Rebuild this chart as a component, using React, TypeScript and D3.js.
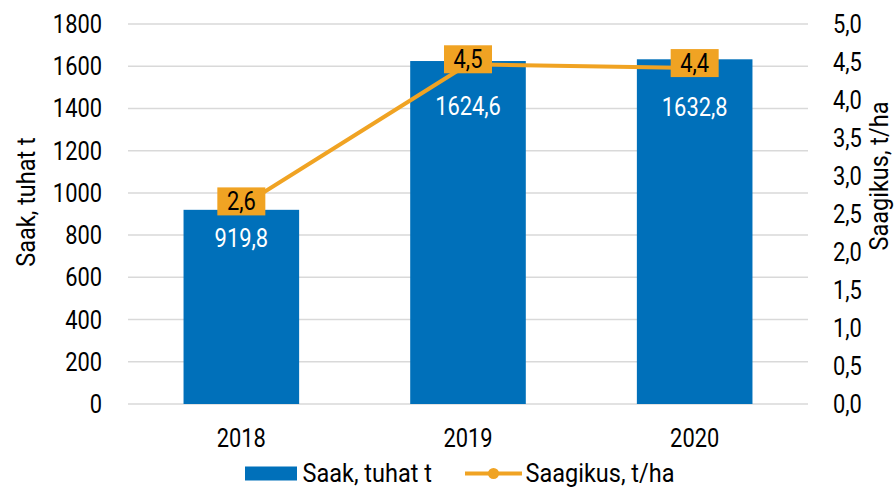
import React from "react";
import * as d3 from "d3";

const categories = ["2018", "2019", "2020"];
const saak = [919.8, 1624.6, 1632.8];
const saagikus = [2.6, 4.47, 4.42];
const leftTicks = [0, 200, 400, 600, 800, 1000, 1200, 1400, 1600, 1800];
const rightTicks = [0, 0.5, 1, 1.5, 2, 2.5, 3, 3.5, 4, 4.5, 5];

const W = 895;
const H = 489;
const BLUE = "#0070BA";
const ORANGE = "#F0A323";
const GRID = "#D9D9D9";
const FONT = "Roboto, 'Noto Sans', sans-serif";
const SX_NUM = 0.875;
const SX_TXT = 0.94;
const FS = 25;

const fmt1 = (v: number) => d3.format(".1f")(v).replace(".", ",");

function T({ x, y, anchor = "start", size = FS, fill = "#000", rotate = 0, sx = SX_NUM, children }: any) {
  return (
    <g transform={`translate(${x},${y}) rotate(${rotate}) scale(${sx},1)`}>
      <text x={0} y={0} textAnchor={anchor} fontFamily={FONT} fontSize={size} fill={fill}>
        {children}
      </text>
    </g>
  );
}

export default function App() {
  const left = 128;
  const right = 808;
  const top = 24;
  const bottom = 404;

  const x = d3.scaleBand().domain(categories).range([left, right]).paddingInner(0.49).paddingOuter(0.245);
  const yL = d3.scaleLinear().domain([0, 1800]).range([bottom, top]);
  const yR = d3.scaleLinear().domain([0, 5]).range([bottom, top]);
  const cx = (c: string) => (x(c) as number) + x.bandwidth() / 2;

  const line = d3
    .line<number>()
    .x((_, i) => cx(categories[i]))
    .y((d) => yR(d));

  const barLabelOffset = [37, 54, 57];
  const boxW = 48;
  const boxH = 28;
  const boxLift = 5;
  const capHalf = 9;

  return (
    <svg width={W} height={H} style={{ position: "absolute", left: 0, top: 0, background: "#fff" }}>
      <rect width={W} height={H} fill="#fff" />
      {leftTicks.map((t) => (
        <line key={t} x1={left} x2={right} y1={yL(t)} y2={yL(t)} stroke={GRID} strokeWidth={1.5} />
      ))}
      {leftTicks.map((t) => (
        <T key={"l" + t} x={102} y={yL(t) + capHalf} anchor="end">
          {String(t)}
        </T>
      ))}
      {rightTicks.map((t) => (
        <T key={"r" + t} x={833} y={yR(t) + capHalf} anchor="start">
          {fmt1(t)}
        </T>
      ))}
      <T x={35} y={202} anchor="middle" rotate={-90} sx={SX_TXT}>
        Saak, tuhat t
      </T>
      <T x={888} y={176} anchor="middle" rotate={-90} sx={SX_TXT}>
        Saagikus, t/ha
      </T>

      {categories.map((c, i) => (
        <rect key={c} x={x(c)} y={yL(saak[i])} width={x.bandwidth()} height={bottom - yL(saak[i])} fill={BLUE} />
      ))}
      {categories.map((c) => (
        <T key={"cat" + c} x={cx(c)} y={446.5} anchor="middle">
          {c}
        </T>
      ))}

      <path d={line(saagikus) as string} fill="none" stroke={ORANGE} strokeWidth={4} strokeLinejoin="round" />

      {categories.map((c, i) => (
        <T key={"bl" + c} x={cx(c)} y={yL(saak[i]) + barLabelOffset[i]} anchor="middle" fill="#fff">
          {fmt1(saak[i])}
        </T>
      ))}

      {categories.map((c, i) => {
        const py = yR(saagikus[i]) - boxLift;
        return (
          <g key={"lb" + c}>
            <rect x={cx(c) - boxW / 2} y={py - boxH / 2} width={boxW} height={boxH} fill={ORANGE} />
            <T x={cx(c)} y={py + capHalf} anchor="middle">
              {fmt1(saagikus[i])}
            </T>
          </g>
        );
      })}

      <g>
        <rect x={245} y={466.5} width={52} height={14} fill={BLUE} />
        <T x={302.5} y={481.5} sx={SX_TXT}>Saak, tuhat t</T>
        <line x1={465} x2={522} y1={473.5} y2={473.5} stroke={ORANGE} strokeWidth={4} />
        <circle cx={493.5} cy={473.5} r={5.5} fill={ORANGE} />
        <T x={525.5} y={481.5} sx={SX_TXT}>Saagikus, t/ha</T>
      </g>
    </svg>
  );
}
